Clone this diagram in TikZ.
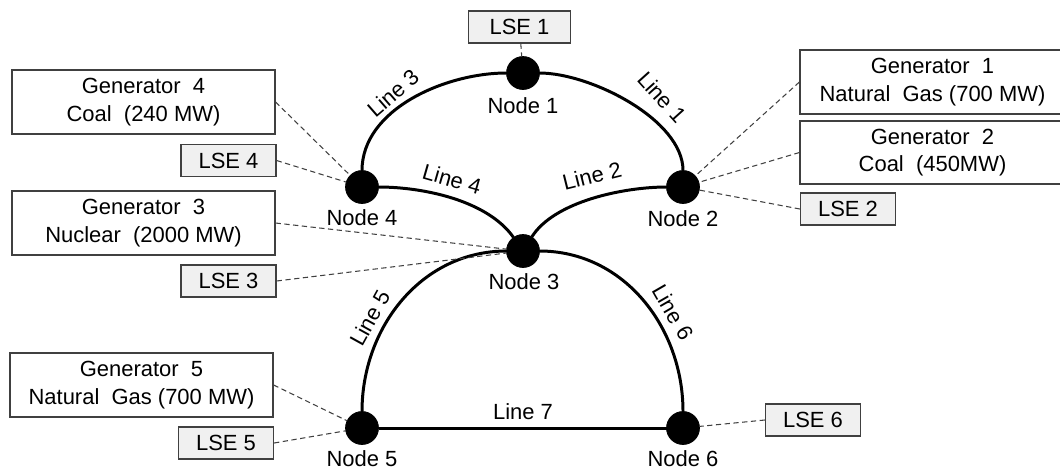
\documentclass[tikz,border=0pt]{standalone}
\usepackage{fontspec}
\setmainfont{Liberation Sans}
\begin{document}
\begin{tikzpicture}[x=0.02cm,y=-0.02cm,font=\fontsize{12.5}{15.5}\selectfont,
	bus/.style={draw,circle,fill=black,inner sep=0,outer sep=0,minimum size=0.66cm},
	gen/.style={draw=black!75,line width=0.7pt,fill=white,align=center,inner sep=0,minimum width=5.26cm,minimum height=1.28cm},
	lse/.style={draw=black!75,line width=0.7pt,fill=black!6,inner sep=0,minimum width=1.9cm,minimum height=0.64cm},
	link/.style={line width=1.7pt},
	tie/.style={draw=black!75,line width=0.6pt,dash pattern=on 3pt off 2pt},
	tag/.style={inner sep=0}]
	\useasboundingbox (0,0) rectangle (1060,471);
	\node[bus] (1) at (523,73) {};
	\node[bus] (2) at (683,187) {};
	\node[bus] (3) at (523,251) {};
	\node[bus] (4) at (362,187) {};
	\node[bus] (5) at (362,428) {};
	\node[bus] (6) at (683,428) {};
	\node[tag] (t1) at (523,106) {Node 1};
	\node[tag] (t2) at (683,219) {Node 2};
	\node[tag] (t3) at (524,282) {Node 3};
	\node[tag] (t4) at (362,218) {Node 4};
	\node[tag] (t5) at (362,459) {Node 5};
	\node[tag] (t6) at (683,459) {Node 6};
	\draw[link] (1) to[out=0,in=90,looseness=0.75] (2);
	\draw[link] (2) to[out=180,in=58,looseness=0.75] (3);
	\draw[link] (4) to[out=90,in=180,looseness=0.9] (1);
	\draw[link] (4) to[out=0,in=125,looseness=0.8] (3);
	\draw[link] (3) to[out=180,in=90] (5);
	\draw[link] (3) to[out=0,in=90] (6);
	\draw[link] (5) -- (6);
	\node[tag,rotate=-48] (w1) at (662,97) {Line 1};
	\node[tag,rotate=14] (w2) at (592,176) {Line 2};
	\node[tag,rotate=41] (w3) at (393,93) {Line 3};
	\node[tag,rotate=-16] (w4) at (452,179) {Line 4};
	\node[tag,rotate=61] (w5) at (370,318) {Line 5};
	\node[tag,rotate=-60] (w6) at (673,312) {Line 6};
	\node[tag] (w7) at (523,412) {Line 7};
	\node[gen,minimum width=5.3cm,minimum height=1.28cm] (g1) at (932.5,82) {Generator~~1\\Natural~~Gas (700 MW)};
	\node[gen,minimum width=5.3cm,minimum height=1.26cm] (g2) at (932.5,152.5) {Generator~~2\\Coal~~(450MW)};
	\node[gen] (g3) at (143.5,223) {Generator~~3\\Nuclear~~(2000 MW)};
	\node[gen] (g4) at (143.5,102) {Generator~~4\\Coal~~(240 MW)};
	\node[gen] (g5) at (141.5,385) {Generator~~5\\Natural~~Gas (700 MW)};
	\node[lse,minimum width=2.04cm] (l1) at (519.5,27) {LSE 1};
	\node[lse] (l2) at (848,209) {LSE 2};
	\node[lse] (l3) at (228.5,281) {LSE 3};
	\node[lse] (l4) at (228.5,160.5) {LSE 4};
	\node[lse] (l5) at (226,443) {LSE 5};
	\node[lse] (l6) at (813,420) {LSE 6};
	\draw[tie] (l1) -- (1);
	\draw[tie] (g1.west) -- (2);
	\draw[tie] (g2.west) -- (2);
	\draw[tie] (l2.west) -- (2);
	\draw[tie] (g3.east) -- (3);
	\draw[tie] (l3.east) -- (3);
	\draw[tie] (g4.east) -- (4);
	\draw[tie] (l4.east) -- (4);
	\draw[tie] (g5.east) -- (5);
	\draw[tie] (l5.east) -- (5);
	\draw[tie] (l6.west) -- (6);
\end{tikzpicture}
\end{document}
